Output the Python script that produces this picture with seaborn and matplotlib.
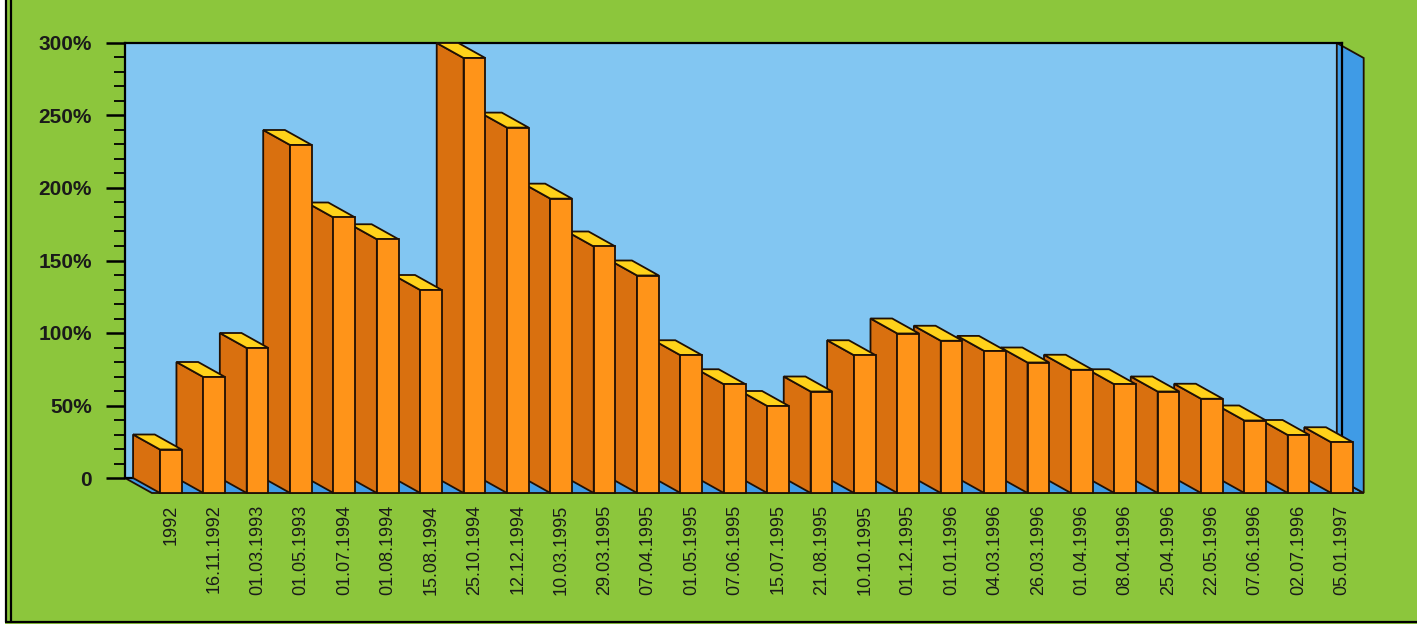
import matplotlib
matplotlib.use("Agg")
import matplotlib.pyplot as plt
import seaborn as sns
from matplotlib.patches import Polygon, Rectangle
from matplotlib.lines import Line2D
from matplotlib.ticker import MultipleLocator

# Data (percent)
dates = [
    "1992", "16.11.1992", "01.03.1993", "01.05.1993", "01.07.1994", "01.08.1994",
    "15.08.1994", "25.10.1994", "12.12.1994", "10.03.1995", "29.03.1995", "07.04.1995",
    "01.05.1995", "07.06.1995", "15.07.1995", "21.08.1995", "10.10.1995", "01.12.1995",
    "01.01.1996", "04.03.1996", "26.03.1996", "01.04.1996", "08.04.1996", "25.04.1996",
    "22.05.1996", "07.06.1996", "02.07.1996", "05.01.1997",
]
values = [
    30, 80, 100, 240, 190, 175,
    140, 300, 252, 203, 170, 150,
    95, 75, 60, 70, 95, 110,
    105, 98, 90, 85, 75, 70,
    65, 50, 40, 35,
]
y_ticks = [0, 50, 100, 150, 200, 250, 300]
y_tick_labels = ["0", "50%", "100%", "150%", "200%", "250%", "300%"]

# Colours
GREEN = "#8cc63c"
WALL = "#82c6f2"
SIDE_WALL = "#3f9be6"
FRONT = "#ff9419"
SIDE = "#d9700f"
TOP = "#ffd21a"
EDGE = "#1f1005"

sns.set_theme(style="white")
plt.rcParams["font.family"] = ["Liberation Sans", "DejaVu Sans"]

W, H = 1417, 628
fig = plt.figure(figsize=(W / 100, H / 100), dpi=100)
fig.patch.set_facecolor(GREEN)

# back wall of the 3D box = the axes area
ax = fig.add_axes([125 / W, (H - 478) / H, (1342 - 125) / W, (478 - 43) / H])
ax.set_facecolor(WALL)

sns.barplot(x=dates, y=values, order=dates, width=0.5, color=FRONT,
            saturation=1, edgecolor=EDGE, linewidth=1.3, ax=ax)

xlim = (-0.436, 27.5)
ax.set_xlim(*xlim)
ax.set_ylim(0, 300)

# depth offset: 27 px right, 15 px down, expressed in data units
ax_w_px = (1342 - 125)
ax_h_px = (478 - 43)
dx = 27 / (ax_w_px / (xlim[1] - xlim[0]))
dy = 15 / (ax_h_px / 300)

# floor and right side wall
floor = Polygon([(xlim[0], 0), (xlim[1], 0), (xlim[1] + dx, -dy), (xlim[0] + dx, -dy)],
                closed=True, facecolor=SIDE_WALL, edgecolor=EDGE, linewidth=1.3,
                clip_on=False, zorder=1)
ax.add_patch(floor)
right_wall = Polygon([(xlim[1], 0), (xlim[1], 300), (xlim[1] + dx, 300 - dy), (xlim[1] + dx, -dy)],
                     closed=True, facecolor=SIDE_WALL, edgecolor=EDGE, linewidth=1.3,
                     clip_on=False, zorder=1)
ax.add_patch(right_wall)

# turn the flat bars into boxes; draw right-to-left so left bars sit in front
bars = [p for p in ax.patches if isinstance(p, Rectangle) and p not in (floor, right_wall)]
bars = sorted(bars, key=lambda p: p.get_x())
for i, p in enumerate(bars):
    x0, w, h = p.get_x(), p.get_width(), p.get_height()
    z = 10 + (len(bars) - i) * 3
    side = Polygon([(x0, 0), (x0, h), (x0 + dx, h - dy), (x0 + dx, -dy)],
                   closed=True, facecolor=SIDE, edgecolor=EDGE, linewidth=1.3,
                   clip_on=False, zorder=z)
    top = Polygon([(x0, h), (x0 + w, h), (x0 + w + dx, h - dy), (x0 + dx, h - dy)],
                  closed=True, facecolor=TOP, edgecolor=EDGE, linewidth=1.3,
                  clip_on=False, zorder=z + 1)
    ax.add_patch(side)
    ax.add_patch(top)
    p.set_x(x0 + dx)
    p.set_y(-dy)
    p.set_clip_on(False)
    p.set_zorder(z + 2)

# axes styling
for s in ["left", "top", "right", "bottom"]:
    ax.spines[s].set_color("black")
    ax.spines[s].set_linewidth(1.6)
ax.spines["bottom"].set_zorder(2)

ax.set_yticks(y_ticks)
ax.set_yticklabels(y_tick_labels, fontsize=15, fontweight="bold", color="#1a1a1a")
ax.yaxis.set_minor_locator(MultipleLocator(10))
ax.tick_params(axis="y", which="major", length=14, width=1.8, color="black", pad=10, left=True)
ax.tick_params(axis="y", which="minor", length=8, width=1.3, color="black", left=True)

ax.set_xticks([i + dx for i in range(len(dates))])
ax.set_xticklabels(dates, rotation=90, fontsize=13, color="#1a1a1a", va="top", ha="center")
ax.tick_params(axis="x", length=0, pad=19)
ax.set_xlabel("")
ax.set_ylabel("")
ax.grid(False)

# scanned page frame: white margin and double line at left, line at bottom
fig.add_artist(Rectangle((0, 0), 5 / W, 1, transform=fig.transFigure,
                         facecolor="white", edgecolor="none"))
fig.add_artist(Rectangle((0, 0), 1, 4 / H, transform=fig.transFigure,
                         facecolor="white", edgecolor="none"))
for xp in (6, 11):
    fig.add_artist(Line2D([xp / W, xp / W], [6 / H, 1], transform=fig.transFigure,
                          color="black", linewidth=1.6))
fig.add_artist(Line2D([6 / W, 1], [6 / H, 6 / H], transform=fig.transFigure,
                      color="black", linewidth=1.6))

fig.savefig("out.png", dpi=100, facecolor=fig.get_facecolor())
